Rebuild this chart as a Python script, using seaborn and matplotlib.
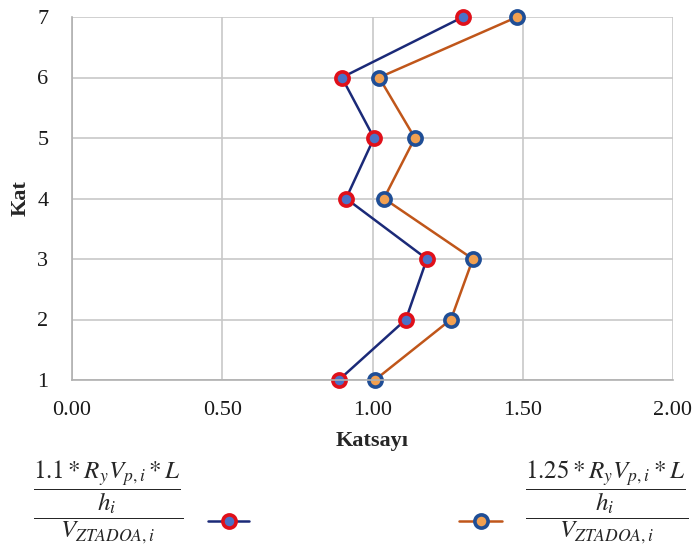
import matplotlib
matplotlib.use("Agg")
import matplotlib.pyplot as plt
from matplotlib.lines import Line2D
import seaborn as sns
import pandas as pd

floors = [1, 2, 3, 4, 5, 6, 7]
coef_110 = [0.888, 1.111, 1.181, 0.912, 1.005, 0.898, 1.301]
coef_125 = [1.008, 1.261, 1.334, 1.038, 1.141, 1.022, 1.481]
x_ticks = [0.0, 0.5, 1.0, 1.5, 2.0]
x_tick_labels = ["0.00", "0.50", "1.00", "1.50", "2.00"]
y_ticks = [1, 2, 3, 4, 5, 6, 7]

label_110 = r"$\dfrac{\dfrac{1.1 * R_y V_{p,i} * L}{h_i}}{V_{ZTADOA,i}}$"
label_125 = r"$\dfrac{\dfrac{1.25 * R_y V_{p,i} * L}{h_i}}{V_{ZTADOA,i}}$"

sns.set_theme(style="whitegrid")
plt.rcParams["font.family"] = ["Liberation Serif", "DejaVu Serif"]
plt.rcParams["mathtext.fontset"] = "stix"

df = pd.DataFrame({"Kat": floors, "a": coef_110, "b": coef_125})

W, H = 696, 552
fig = plt.figure(figsize=(W / 100, H / 100), dpi=100)
ax = fig.add_axes([72 / W, 1 - 380 / H, (673 - 72) / W, (380 - 17) / H])

style_110 = dict(color="#1B2A78", lw=1.8, marker="o", markersize=9.5,
                 markerfacecolor="#4A72C8", markeredgecolor="#E0101A",
                 markeredgewidth=2.6)
style_125 = dict(color="#C0561A", lw=1.8, marker="o", markersize=9.5,
                 markerfacecolor="#F2A050", markeredgecolor="#1F4E96",
                 markeredgewidth=2.6)

sns.lineplot(data=df, x="a", y="Kat", sort=False, orient="y", ax=ax,
             legend=False, **style_110)
sns.lineplot(data=df, x="b", y="Kat", sort=False, orient="y", ax=ax,
             legend=False, **style_125)

ax.set_xlim(0, 2)
ax.set_ylim(1, 7)
ax.set_xticks(x_ticks)
ax.set_xticklabels(x_tick_labels)
ax.set_yticks(y_ticks)
ax.tick_params(axis="both", labelsize=16, colors="#1A1A1A", length=0)
ax.tick_params(axis="x", pad=15)
ax.tick_params(axis="y", pad=17)
ax.grid(True, color="#C8C8C8", lw=1.2)
for side in ["top", "right"]:
    ax.spines[side].set_visible(False)
for side in ["left", "bottom"]:
    ax.spines[side].set_color("#B0B0B0")
    ax.spines[side].set_linewidth(1.2)
for ln in ax.lines:
    ln.set_clip_on(False)

ax.set_xlabel("Katsayı", fontsize=16, fontweight="bold", labelpad=8)
ax.set_ylabel("Kat", fontsize=16, fontweight="bold", labelpad=5)

# legend: formula + key on the left, key + formula on the right
def key(x0, x1, y, style):
    yf = 1 - y / H
    fig.add_artist(Line2D([x0 / W, x1 / W], [yf, yf], transform=fig.transFigure,
                          color=style["color"], lw=style["lw"]))
    fig.add_artist(Line2D([(x0 + x1) / 2 / W], [yf], transform=fig.transFigure,
                          linestyle="none", marker="o",
                          markersize=style["markersize"],
                          markerfacecolor=style["markerfacecolor"],
                          markeredgecolor=style["markeredgecolor"],
                          markeredgewidth=style["markeredgewidth"]))

fig.text(33 / W, 1 - 546 / H, label_110, fontsize=18, ha="left", va="bottom")
key(208, 249, 521, style_110)
fig.text(688 / W, 1 - 546 / H, label_125, fontsize=18, ha="right", va="bottom")
key(459, 502, 521, style_125)

fig.savefig("out.png", dpi=100)
